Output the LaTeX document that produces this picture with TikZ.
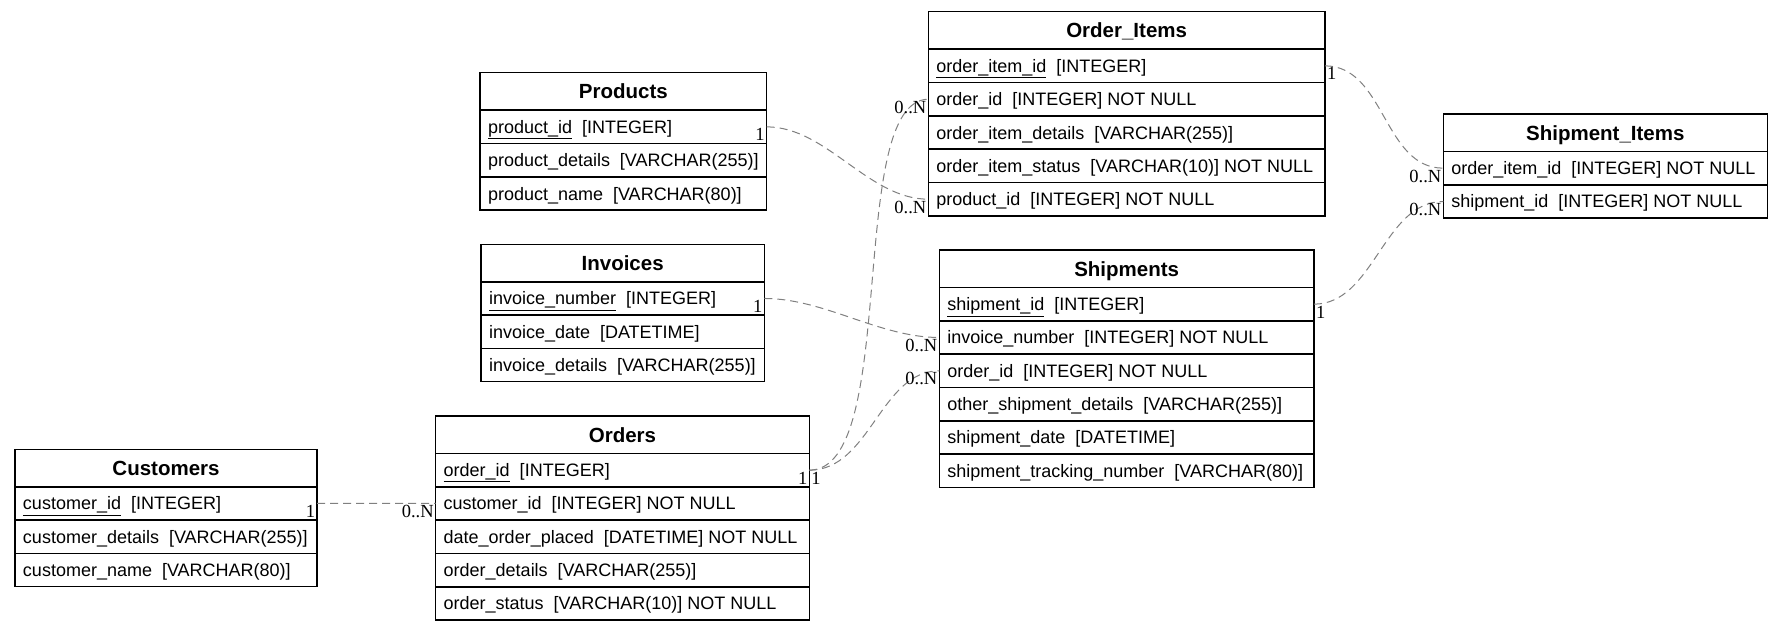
\documentclass[tikz,border=0pt]{standalone}
\usepackage{fontspec}
\setmainfont{Liberation Sans}
\newfontfamily\lblfont{Liberation Serif}
\newcommand\pk[1]{\underline{#1}}
\begin{document}
\begin{tikzpicture}[x=1pt,y=-1pt,
  tbl/.style={draw=black, line width=1.4pt, inner ysep=0pt, outer sep=0pt, anchor=north west},
  hdr/.style={tbl, minimum height=37.5pt, font=\fontsize{20.5}{24}\selectfont\bfseries, text height=15pt, text depth=0pt, inner xsep=0pt},
  fld/.style={tbl, minimum height=33.33pt, font=\fontsize{18}{22}\selectfont, text height=13pt, text depth=0pt, inner xsep=8pt,
    execute at begin node={\hbox to \dimexpr#1-16pt\relax\bgroup}, execute at end node={\hfil\egroup}},
  rel/.style={draw=black!50, line width=1pt, dash pattern=on 8pt off 5pt},
  lbl/.style={font=\lblfont\fontsize{18.5}{22}\selectfont, inner sep=1.5pt, text height=12pt, text depth=0pt}
]
\useasboundingbox (0,0) rectangle (1783,631);

% Customers
\node[hdr, minimum width=302pt] (cust) at (15,449.3) {Customers};
\node[fld=302pt] (cust-id) at (cust.south west) {\pk{customer\_id}~~[INTEGER]};
\node[fld=302pt] (cust-det) at (cust-id.south west) {customer\_details~~[VARCHAR(255)]};
\node[fld=302pt] (cust-name) at (cust-det.south west) {customer\_name~~[VARCHAR(80)]};

% Orders
\node[hdr, minimum width=373.6pt] (ord) at (435.7,416) {Orders};
\node[fld=373.6pt] (ord-id) at (ord.south west) {\pk{order\_id}~~[INTEGER]};
\node[fld=373.6pt] (ord-cust) at (ord-id.south west) {customer\_id~~[INTEGER] NOT NULL};
\node[fld=373.6pt] (ord-date) at (ord-cust.south west) {date\_order\_placed~~[DATETIME] NOT NULL};
\node[fld=373.6pt] (ord-det) at (ord-date.south west) {order\_details~~[VARCHAR(255)]};
\node[fld=373.6pt] (ord-stat) at (ord-det.south west) {order\_status~~[VARCHAR(10)] NOT NULL};

% Products
\node[hdr, minimum width=286.7pt] (prod) at (480,72.7) {Products};
\node[fld=286.7pt] (prod-id) at (prod.south west) {\pk{product\_id}~~[INTEGER]};
\node[fld=286.7pt] (prod-det) at (prod-id.south west) {product\_details~~[VARCHAR(255)]};
\node[fld=286.7pt] (prod-name) at (prod-det.south west) {product\_name~~[VARCHAR(80)]};

% Invoices
\node[hdr, minimum width=283.3pt] (inv) at (481,244.3) {Invoices};
\node[fld=283.3pt] (inv-num) at (inv.south west) {\pk{invoice\_number}~~[INTEGER]};
\node[fld=283.3pt] (inv-date) at (inv-num.south west) {invoice\_date~~[DATETIME]};
\node[fld=283.3pt] (inv-det) at (inv-date.south west) {invoice\_details~~[VARCHAR(255)]};

% Order_Items
\node[hdr, minimum width=396.7pt] (oi) at (928.3,11.7) {Order\_Items};
\node[fld=396.7pt] (oi-id) at (oi.south west) {\pk{order\_item\_id}~~[INTEGER]};
\node[fld=396.7pt] (oi-ord) at (oi-id.south west) {order\_id~~[INTEGER] NOT NULL};
\node[fld=396.7pt] (oi-det) at (oi-ord.south west) {order\_item\_details~~[VARCHAR(255)]};
\node[fld=396.7pt] (oi-stat) at (oi-det.south west) {order\_item\_status~~[VARCHAR(10)] NOT NULL};
\node[fld=396.7pt] (oi-prod) at (oi-stat.south west) {product\_id~~[INTEGER] NOT NULL};

% Shipments
\node[hdr, minimum width=374.7pt] (sh) at (939.3,250) {Shipments};
\node[fld=374.7pt] (sh-id) at (sh.south west) {\pk{shipment\_id}~~[INTEGER]};
\node[fld=374.7pt] (sh-inv) at (sh-id.south west) {invoice\_number~~[INTEGER] NOT NULL};
\node[fld=374.7pt] (sh-ord) at (sh-inv.south west) {order\_id~~[INTEGER] NOT NULL};
\node[fld=374.7pt] (sh-det) at (sh-ord.south west) {other\_shipment\_details~~[VARCHAR(255)]};
\node[fld=374.7pt] (sh-date) at (sh-det.south west) {shipment\_date~~[DATETIME]};
\node[fld=374.7pt] (sh-track) at (sh-date.south west) {shipment\_tracking\_number~~[VARCHAR(80)]};

% Shipment_Items
\node[hdr, minimum width=324pt] (si) at (1443.3,114) {Shipment\_Items};
\node[fld=324pt] (si-oi) at (si.south west) {order\_item\_id~~[INTEGER] NOT NULL};
\node[fld=324pt] (si-sh) at (si-oi.south west) {shipment\_id~~[INTEGER] NOT NULL};

% Relations
\draw[rel] (cust-id.east) -- (ord-cust.west)
  node[pos=0, lbl, anchor=north east] (l-c1) {1}
  node[pos=1, lbl, anchor=north east] (l-c2) {0..N};
\draw[rel] (prod-id.east) .. controls +(60,0) and +(-60,0) .. (oi-prod.west)
  node[pos=0, lbl, anchor=north east] (l-p1) {1}
  node[pos=1, lbl, anchor=north east] (l-p2) {0..N};
\draw[rel] (inv-num.east) .. controls +(60,0) and +(-60,0) .. (sh-inv.west)
  node[pos=0, lbl, anchor=north east] (l-i1) {1}
  node[pos=1, lbl, anchor=north east] (l-i2) {0..N};
\draw[rel] (ord-id.east) .. controls +(91,0) and +(-83,1) .. (oi-ord.west)
  node[pos=0, lbl, anchor=north west] (l-o1) {1}
  node[pos=1, lbl, anchor=north east] (l-o2) {0..N};
\draw[rel] (ord-id.east) .. controls +(61,0) and +(-59,0) .. (sh-ord.west)
  node[pos=0, lbl, anchor=north east] (l-s1) {1}
  node[pos=1, lbl, anchor=north east] (l-s2) {0..N};
\draw[rel] (oi-id.east) .. controls +(60,0) and +(-60,0) .. (si-oi.west)
  node[pos=0, lbl, anchor=north west] (l-q1) {1}
  node[pos=1, lbl, anchor=north east] (l-q2) {0..N};
\draw[rel] (sh-id.east) .. controls +(60,0) and +(-60,0) .. (si-sh.west)
  node[pos=0, lbl, anchor=north west] (l-r1) {1}
  node[pos=1, lbl, anchor=north east] (l-r2) {0..N};
\end{tikzpicture}
\end{document}
